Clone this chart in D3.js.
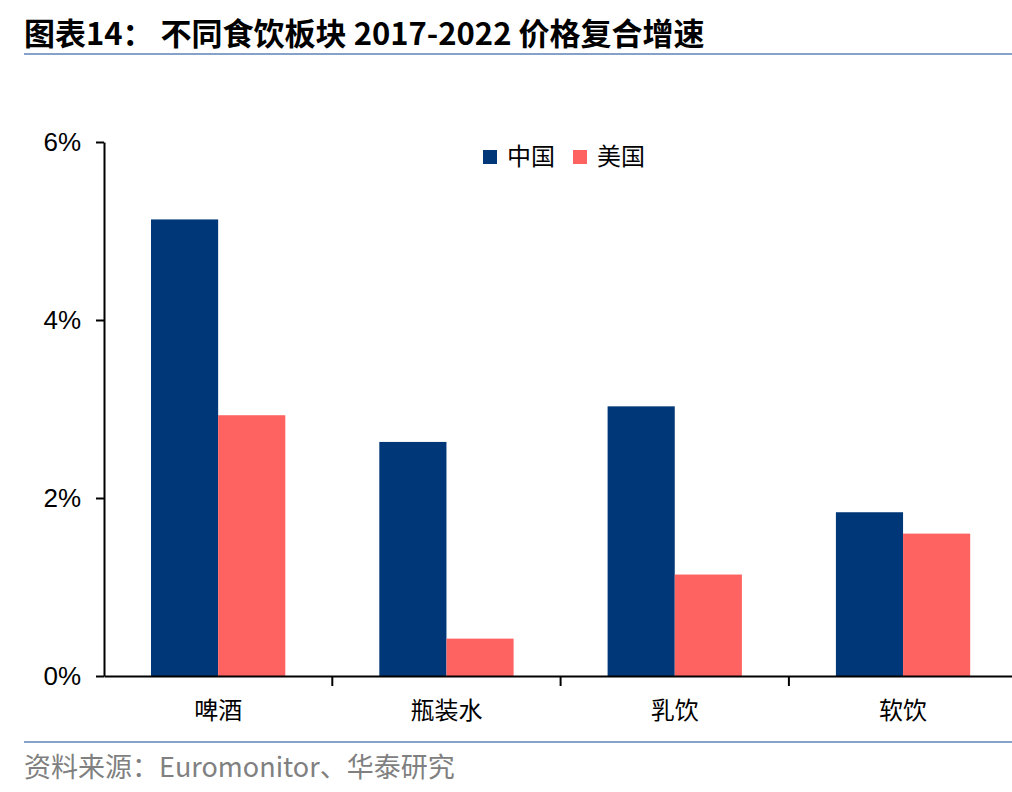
<!DOCTYPE html>
<html>
<head>
<meta charset="utf-8">
<script src="https://cdn.jsdelivr.net/npm/d3@7"></script>
<style>
  body { margin: 0; background: #fff; }
  svg text { font-family: "Liberation Sans", Arial, sans-serif; }
  .cjk { font-family: "Noto Sans CJK SC", "Noto Sans", sans-serif; }
</style>
</head>
<body>
<div id="chart"></div>
<script>
// data
const categories = ['啤酒', '瓶装水', '乳饮', '软饮'];
const seriesNames = ['中国', '美国'];
const chinaValues = [0.0513, 0.0263, 0.0303, 0.0184];
const usValues = [0.0293, 0.0042, 0.0114, 0.0160];
const yTicks = [0, 0.02, 0.04, 0.06];
const colors = ['#003778', '#ff6361'];

const W = 1012, H = 792;
const margin = {top: 142, left: 104, bottom: 116};
const plotBottom = H - margin.bottom;   // 676
const step = 228.3;

const svg = d3.select('#chart').append('svg')
    .attr('width', W)
    .attr('height', H);

// title
svg.append('text')
    .attr('class', 'cjk')
    .attr('x', 24)
    .attr('y', 45)
    .style('font-size', '31px')
    .style('font-weight', 'bold')
    .text('图表14：  不同食饮板块 2017-2022 价格复合增速');

svg.append('line')
    .attr('x1', 24).attr('x2', W)
    .attr('y1', 54).attr('y2', 54)
    .style('stroke', '#86a2c8')
    .style('stroke-width', 2);

// scales
const x0 = d3.scaleBand()
    .domain(categories)
    .range([margin.left, margin.left + step * categories.length])
    .padding(0);

const x1 = d3.scaleBand()
    .domain(seriesNames)
    .range([0, x0.bandwidth()])
    .paddingInner(0)
    .paddingOuter(0.7);

const y = d3.scaleLinear()
    .domain([0, 0.06])
    .range([plotBottom, margin.top]);

const rows = categories.map((c, i) => ({
    category: c,
    values: [
        {name: seriesNames[0], value: chinaValues[i]},
        {name: seriesNames[1], value: usValues[i]}
    ]
}));

// bars
svg.append('g').selectAll('g')
    .data(rows).enter()
    .append('g')
    .attr('transform', d => 'translate(' + x0(d.category) + ',0)')
    .selectAll('rect')
    .data(d => d.values).enter()
    .append('rect')
    .attr('x', d => x1(d.name))
    .attr('y', d => y(d.value))
    .attr('width', x1.bandwidth())
    .attr('height', d => plotBottom - y(d.value))
    .style('fill', (d, i) => colors[i]);

// y axis
const yAxis = svg.append('g')
    .attr('transform', 'translate(' + margin.left + ',0)')
    .call(d3.axisLeft(y)
        .tickValues(yTicks)
        .tickFormat(d => Math.round(d * 100) + '%')
        .tickSize(8)
        .tickSizeOuter(0)
        .tickPadding(15));
yAxis.select('.domain').style('stroke', '#000').style('stroke-width', 2);
yAxis.selectAll('.tick line').style('stroke', '#000').style('stroke-width', 2);
yAxis.selectAll('.tick text')
    .style('font-size', '26px')
    .style('fill', '#000')
    .style('font-family', '"Liberation Sans", Arial, sans-serif');

// x axis
const xAxis = svg.append('g')
    .attr('transform', 'translate(0,' + plotBottom + ')')
    .call(d3.axisBottom(x0).tickSize(0).tickPadding(26));
xAxis.select('.domain').style('stroke', '#000').style('stroke-width', 2);
xAxis.selectAll('.tick text')
    .attr('class', 'cjk')
    .style('font-size', '24px')
    .style('fill', '#000')
    .style('font-family', '"Noto Sans CJK SC", sans-serif');

// category separators
svg.append('g').selectAll('line')
    .data(categories.slice(1)).enter()
    .append('line')
    .attr('x1', d => x0(d)).attr('x2', d => x0(d))
    .attr('y1', plotBottom).attr('y2', plotBottom + 10)
    .style('stroke', '#000')
    .style('stroke-width', 2);

// legend
const legend = svg.append('g')
    .attr('transform', 'translate(483,150)');
const legendItem = legend.selectAll('g')
    .data(seriesNames).enter()
    .append('g')
    .attr('transform', (d, i) => 'translate(' + (i * 90) + ',0)');
legendItem.append('rect')
    .attr('width', 14).attr('height', 14)
    .style('fill', (d, i) => colors[i]);
legendItem.append('text')
    .attr('class', 'cjk')
    .attr('x', 24)
    .attr('y', 7)
    .attr('dy', '0.35em')
    .style('font-size', '24px')
    .text(d => d);

// footer
svg.append('line')
    .attr('x1', 24).attr('x2', W)
    .attr('y1', 742).attr('y2', 742)
    .style('stroke', '#86a2c8')
    .style('stroke-width', 2);

svg.append('text')
    .attr('class', 'cjk')
    .attr('x', 24)
    .attr('y', 777)
    .style('font-size', '27px')
    .style('fill', '#808080')
    .text('资料来源：Euromonitor、华泰研究');
</script>
</body>
</html>
